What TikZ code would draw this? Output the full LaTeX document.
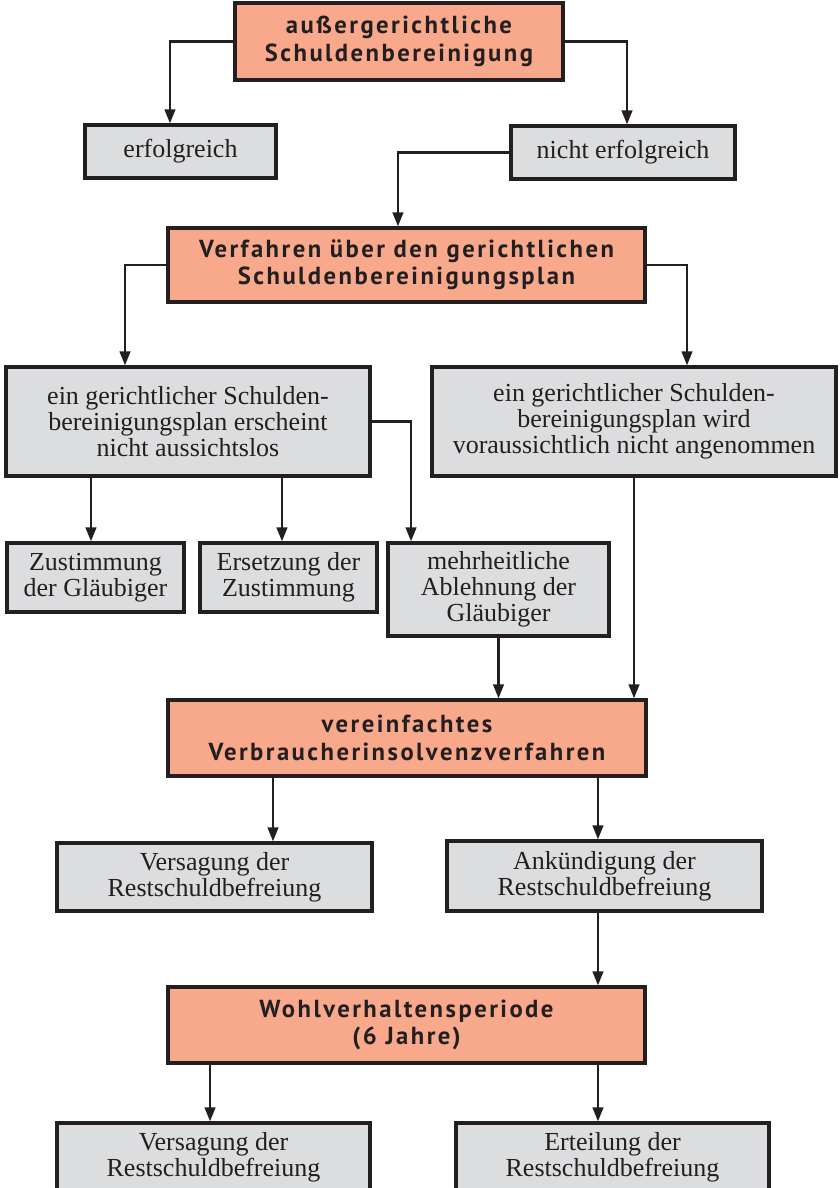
\documentclass[tikz,border=0pt]{standalone}
\usepackage{fontspec}
\setmainfont{Liberation Serif}
\newfontfamily\titlefont[LetterSpace=10]{PT Sans}
\usetikzlibrary{arrows.meta}
\definecolor{lachs}{HTML}{F8A98C}
\definecolor{hellgrau}{HTML}{DCDDDF}
\definecolor{dunkel}{HTML}{231F20}
\tikzset{
  stufe/.style={draw=dunkel,line width=2.5pt,fill=lachs,text=dunkel,align=center,inner sep=0pt,
    font=\titlefont\bfseries\fontsize{18.5}{20.5}\selectfont},
  fall/.style={draw=dunkel,line width=2.5pt,fill=hellgrau,text=dunkel,align=center,inner sep=0pt,
    font=\fontsize{19.5}{19.5}\selectfont},
  pfeil/.style={draw=dunkel,line width=1.7pt,-{Triangle[length=10.5pt,width=8pt]}}
}

\begin{document}
\begin{tikzpicture}[x=0.75pt,y=-0.75pt]
\useasboundingbox (0,0) rectangle (839,1188);
\node[stufe,minimum width=246pt,minimum height=57.75pt] (aussen) at (399,41.5) {außergerichtliche\\Schuldenbereinigung};
\node[fall,minimum width=143.25pt,minimum height=39.75pt] (erfolg) at (180.5,151.5) {erfolgreich};
\node[fall,minimum width=168pt,minimum height=39.75pt] (nerfolg) at (623,152.5) {nicht erfolgreich};
\node[stufe,minimum width=357.75pt,minimum height=55.5pt] (verfahren) at (406.5,265) {Verfahren über den gerichtlichen\\Schuldenbereinigungsplan};
\node[fall,minimum width=273pt,minimum height=81.75pt] (plana) at (188,421.5) {ein gerichtlicher Schulden-\\bereinigungsplan erscheint\\nicht aussichtslos};
\node[fall,minimum width=303pt,minimum height=81.75pt] (planb) at (634,421.5) {ein gerichtlicher Schulden-\\bereinigungsplan wird\\voraussichtlich nicht angenommen};
\node[fall,minimum width=132.75pt,minimum height=51.75pt] (zust) at (95.5,577.5) {Zustimmung\\der Gläubiger};
\node[fall,minimum width=132.75pt,minimum height=51.75pt] (erse) at (288.5,577.5) {Ersetzung der\\Zustimmung};
\node[fall,minimum width=165.75pt,minimum height=69.75pt] (mehr) at (498.5,589.5) {mehrheitliche\\Ablehnung der\\Gläubiger};
\node[stufe,minimum width=358.5pt,minimum height=57pt] (vereinf) at (407,738) {vereinfachtes\\Verbraucherinsolvenzverfahren};
\node[fall,minimum width=236.25pt,minimum height=51pt] (versag) at (214.5,877) {Versagung der\\Restschuldbefreiung};
\node[fall,minimum width=236.25pt,minimum height=52.5pt] (ankuend) at (604.5,876) {Ankündigung der\\Restschuldbefreiung};
\node[stufe,minimum width=357.75pt,minimum height=57pt] (wohl) at (406.5,1025) {Wohlverhaltensperiode\\(6 Jahre)};
\node[fall,minimum width=234.75pt,minimum height=51pt] (versagb) at (213.5,1157) {Versagung der\\Restschuldbefreiung};
\node[fall,minimum width=234.75pt,minimum height=51pt] (erteil) at (612.5,1157) {Erteilung der\\Restschuldbefreiung};

\draw[pfeil] (aussen.west) -| ([xshift=-7.9pt]erfolg.north);
\draw[pfeil] (aussen.east) -| ([xshift=3pt]nerfolg.north);
\draw[pfeil] (nerfolg.west) -| ([xshift=-6.4pt]verfahren.north);
\draw[pfeil] (verfahren.west) -| ([xshift=-47.25pt]plana.north);
\draw[pfeil] (verfahren.east) -| ([xshift=39.75pt]planb.north);
\draw[pfeil] ([xshift=-3.4pt]zust.north |- plana.south) -- ([xshift=-3.4pt]zust.north);
\draw[pfeil] ([xshift=-4.9pt]erse.north |- plana.south) -- ([xshift=-4.9pt]erse.north);
\draw[pfeil] (plana.east) -| ([xshift=-65.6pt]mehr.north);
\draw[pfeil] (mehr.south) -- (mehr.south |- vereinf.north);
\draw[pfeil] (planb.south) -- (planb.south |- vereinf.north);
\draw[pfeil] ([xshift=-100.5pt]vereinf.south) -- ([xshift=-100.5pt]vereinf.south |- versag.north);
\draw[pfeil] ([xshift=-4.9pt]ankuend.north |- vereinf.south) -- ([xshift=-4.9pt]ankuend.north);
\draw[pfeil] ([xshift=-4.9pt]ankuend.south) -- ([xshift=-4.9pt]ankuend.south |- wohl.north);
\draw[pfeil] ([xshift=-2.6pt]versagb.north |- wohl.south) -- ([xshift=-2.6pt]versagb.north);
\draw[pfeil] ([xshift=-10.9pt]erteil.north |- wohl.south) -- ([xshift=-10.9pt]erteil.north);
\end{tikzpicture}
\end{document}
